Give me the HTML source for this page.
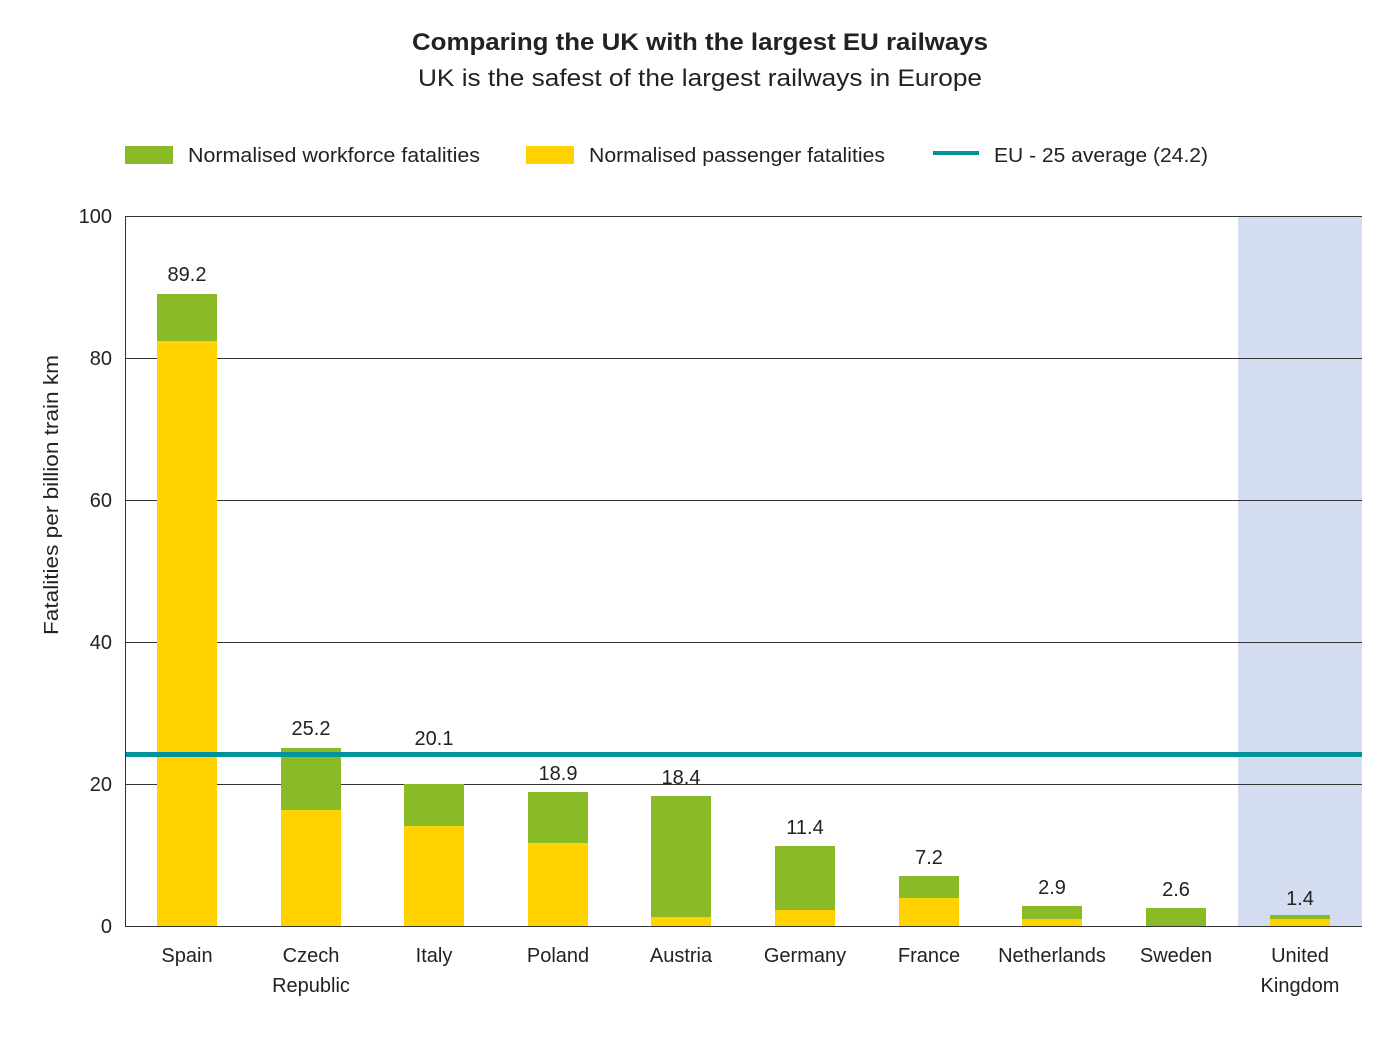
<!DOCTYPE html>
<html><head><meta charset="utf-8"><style>
body{margin:0;background:#fff;}
svg text{font-family:"Liberation Sans",sans-serif;fill:#222;}
</style></head><body>
<svg width="1400" height="1050" xmlns="http://www.w3.org/2000/svg">
<text x="412" y="50" font-size="24" font-weight="bold" textLength="576" lengthAdjust="spacingAndGlyphs">Comparing the UK with the largest EU railways</text>
<text x="418" y="86" font-size="24" textLength="564" lengthAdjust="spacingAndGlyphs">UK is the safest of the largest railways in Europe</text>
<rect x="125" y="146" width="48" height="18" fill="#8aba26"/>
<text x="188" y="162" font-size="20" textLength="292" lengthAdjust="spacingAndGlyphs">Normalised workforce fatalities</text>
<rect x="526" y="146" width="48" height="18" fill="#ffd200"/>
<text x="589" y="162" font-size="20" textLength="296" lengthAdjust="spacingAndGlyphs">Normalised passenger fatalities</text>
<rect x="933" y="151" width="46" height="4" fill="#00939a"/>
<text x="994" y="162" font-size="20" textLength="214" lengthAdjust="spacingAndGlyphs">EU - 25 average (24.2)</text>
<rect x="1238" y="216" width="124" height="710" fill="#d4ddf0"/>
<g stroke="#333" stroke-width="1">
<line x1="125" y1="216.5" x2="1362" y2="216.5"/>
<line x1="125" y1="358.5" x2="1362" y2="358.5"/>
<line x1="125" y1="500.5" x2="1362" y2="500.5"/>
<line x1="125" y1="642.5" x2="1362" y2="642.5"/>
<line x1="125" y1="784.5" x2="1362" y2="784.5"/>
</g>
<g font-size="20" text-anchor="end">
<text x="112" y="223">100</text><text x="112" y="365">80</text><text x="112" y="507">60</text>
<text x="112" y="649">40</text><text x="112" y="791">20</text><text x="112" y="933">0</text>
</g>
<text transform="translate(58,495) rotate(-90)" text-anchor="middle" font-size="20" textLength="280" lengthAdjust="spacingAndGlyphs">Fatalities per billion train km</text>
<g>
<rect x="157" y="341" width="60" height="585" fill="#ffd200"/><rect x="157" y="294" width="60" height="47" fill="#8aba26"/>
<rect x="281" y="810" width="60" height="116" fill="#ffd200"/><rect x="281" y="748" width="60" height="62" fill="#8aba26"/>
<rect x="404" y="826" width="60" height="100" fill="#ffd200"/><rect x="404" y="784" width="60" height="42" fill="#8aba26"/>
<rect x="528" y="843" width="60" height="83" fill="#ffd200"/><rect x="528" y="792" width="60" height="51" fill="#8aba26"/>
<rect x="651" y="917" width="60" height="9" fill="#ffd200"/><rect x="651" y="796" width="60" height="121" fill="#8aba26"/>
<rect x="775" y="910" width="60" height="16" fill="#ffd200"/><rect x="775" y="846" width="60" height="64" fill="#8aba26"/>
<rect x="899" y="898" width="60" height="28" fill="#ffd200"/><rect x="899" y="876" width="60" height="22" fill="#8aba26"/>
<rect x="1022" y="919" width="60" height="7" fill="#ffd200"/><rect x="1022" y="906" width="60" height="13" fill="#8aba26"/>
<rect x="1146" y="908" width="60" height="18" fill="#8aba26"/>
<rect x="1270" y="919" width="60" height="7" fill="#ffd200"/><rect x="1270" y="915" width="60" height="4" fill="#8aba26"/>
</g>
<rect x="125" y="752" width="1237" height="5" fill="#00939a"/>
<line x1="125.5" y1="216" x2="125.5" y2="926" stroke="#333"/>
<line x1="125" y1="926.5" x2="1362" y2="926.5" stroke="#333"/>
<g font-size="20" text-anchor="middle">
<text x="187" y="281">89.2</text><text x="311" y="735">25.2</text><text x="434" y="745">20.1</text>
<text x="558" y="780">18.9</text><text x="681" y="784">18.4</text><text x="805" y="834">11.4</text>
<text x="929" y="864">7.2</text><text x="1052" y="894">2.9</text><text x="1176" y="896">2.6</text><text x="1300" y="905">1.4</text>
<text x="187" y="962">Spain</text><text x="311" y="962">Czech</text><text x="311" y="992">Republic</text>
<text x="434" y="962">Italy</text><text x="558" y="962">Poland</text><text x="681" y="962">Austria</text>
<text x="805" y="962">Germany</text><text x="929" y="962">France</text><text x="1052" y="962">Netherlands</text>
<text x="1176" y="962">Sweden</text><text x="1300" y="962">United</text><text x="1300" y="992">Kingdom</text>
</g>
</svg>
</body></html>
